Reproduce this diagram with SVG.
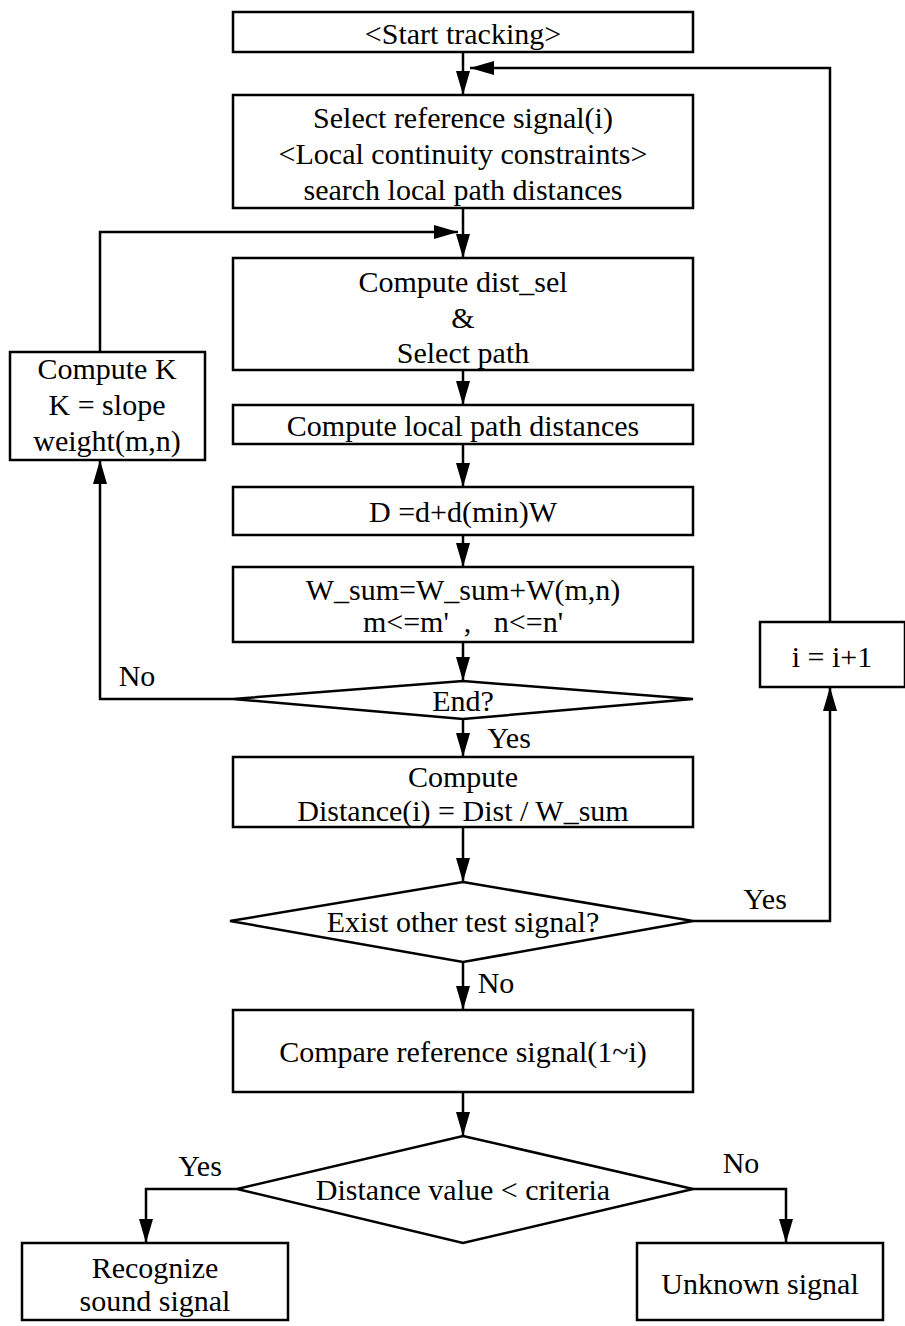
<svg xmlns="http://www.w3.org/2000/svg" width="905" height="1326" viewBox="0 0 905 1326">
<style>
.b{fill:#fff;stroke:#000;stroke-width:2.5}
.c{fill:none;stroke:#000;stroke-width:2.5}
text{font-family:"Liberation Serif",serif;font-size:30px;fill:#000;text-anchor:middle;dominant-baseline:central}
</style>
<defs>
<marker id="a" markerWidth="24" markerHeight="14" refX="24" refY="7" viewBox="0 0 24 14" orient="auto" markerUnits="userSpaceOnUse">
<path d="M0,0 L24,7 L0,14 Z" fill="#000"/>
</marker>
</defs>
<rect width="905" height="1326" fill="#fff"/>
<g id="connectors">
<line class="c" x1="463" y1="52" x2="463" y2="95" marker-end="url(#a)"/>
<polyline class="c" points="830,622 830,68 470,68" marker-end="url(#a)"/>
<line class="c" x1="463" y1="208" x2="463" y2="258" marker-end="url(#a)"/>
<polyline class="c" points="100,352 100,232 458,232" marker-end="url(#a)"/>
<line class="c" x1="463" y1="370" x2="463" y2="405" marker-end="url(#a)"/>
<line class="c" x1="463" y1="444" x2="463" y2="487" marker-end="url(#a)"/>
<line class="c" x1="463" y1="535" x2="463" y2="567" marker-end="url(#a)"/>
<line class="c" x1="463" y1="642" x2="463" y2="681" marker-end="url(#a)"/>
<polyline class="c" points="233,699 100,699 100,460" marker-end="url(#a)"/>
<line class="c" x1="463" y1="719" x2="463" y2="757" marker-end="url(#a)"/>
<line class="c" x1="463" y1="827" x2="463" y2="882" marker-end="url(#a)"/>
<polyline class="c" points="693,921 830,921 830,687" marker-end="url(#a)"/>
<line class="c" x1="463" y1="962" x2="463" y2="1010" marker-end="url(#a)"/>
<line class="c" x1="463" y1="1092" x2="463" y2="1136" marker-end="url(#a)"/>
<polyline class="c" points="237,1189 146,1189 146,1243" marker-end="url(#a)"/>
<polyline class="c" points="693,1189 786,1189 786,1243" marker-end="url(#a)"/>
<text x="137" y="675">No</text>
<text x="509" y="737">Yes</text>
<text x="765" y="898">Yes</text>
<text x="496" y="982">No</text>
<text x="200" y="1165">Yes</text>
<text x="741" y="1162">No</text>
</g>
<g id="start"><rect class="b" x="233" y="12" width="460" height="40"/><text x="463" y="33">&lt;Start tracking&gt;</text></g>
<g id="select"><rect class="b" x="233" y="95" width="460" height="113"/><text x="463" y="117">Select reference signal(i)</text><text x="463" y="153">&lt;Local continuity constraints&gt;</text><text x="463" y="189">search local path distances</text></g>
<g id="computeK"><rect class="b" x="10" y="352" width="195" height="108"/><text x="107" y="368">Compute K</text><text x="107" y="404">K = slope</text><text x="107" y="440">weight(m,n)</text></g>
<g id="distsel"><rect class="b" x="233" y="258" width="460" height="112"/><text x="463" y="281">Compute dist_sel</text><text x="463" y="317">&amp;</text><text x="463" y="352">Select path</text></g>
<g id="localpath"><rect class="b" x="233" y="405" width="460" height="39"/><text x="463" y="425">Compute local path distances</text></g>
<g id="dcalc"><rect class="b" x="233" y="487" width="460" height="48"/><text x="463" y="511">D =d+d(min)W</text></g>
<g id="wsum"><rect class="b" x="233" y="567" width="460" height="75"/><text x="463" y="589">W_sum=W_sum+W(m,n)</text><text x="463" y="621" xml:space="preserve">m&lt;=m'  ,   n&lt;=n'</text></g>
<g id="end"><polygon class="b" points="463,681 693,699 463,719 233,699"/><text x="463" y="700">End?</text></g>
<g id="distance"><rect class="b" x="233" y="757" width="460" height="70"/><text x="463" y="776">Compute</text><text x="463" y="810">Distance(i) = Dist / W_sum</text></g>
<g id="exist"><polygon class="b" points="463,882 693,921 463,962 230,921"/><text x="463" y="921">Exist other test signal?</text></g>
<g id="incr"><rect class="b" x="760" y="622" width="145" height="65"/><text x="832" y="656">i = i+1</text></g>
<g id="compare"><rect class="b" x="233" y="1010" width="460" height="82"/><text x="463" y="1051">Compare reference signal(1~i)</text></g>
<g id="criteria"><polygon class="b" points="463,1136 693,1189 463,1243 237,1189"/><text x="463" y="1189">Distance value &lt; criteria</text></g>
<g id="recognize"><rect class="b" x="22" y="1243" width="266" height="77"/><text x="155" y="1267">Recognize</text><text x="155" y="1300">sound signal</text></g>
<g id="unknown"><rect class="b" x="637" y="1243" width="246" height="77"/><text x="760" y="1283">Unknown signal</text></g>
</svg>
